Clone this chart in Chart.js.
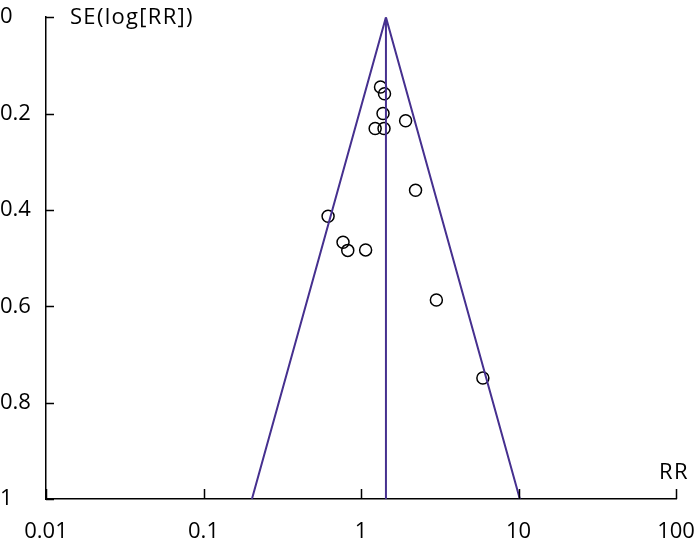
<!DOCTYPE html>
<html>
<head>
<meta charset="utf-8">
<script src="https://cdn.jsdelivr.net/npm/chart.js@4/dist/chart.umd.min.js"></script>
<style>
  html, body { margin: 0; padding: 0; background: #fff; }
  #wrap { width: 700px; height: 544px; }
</style>
</head>
<body>
<div id="wrap"><canvas id="funnel"></canvas></div>
<script>
// study estimates
const rrValues = [1.33, 1.41, 1.38, 1.92, 1.23, 1.40, 2.22, 0.618, 0.769, 0.824, 1.07, 3.01, 5.94];
const seValues = [0.145, 0.159, 0.200, 0.215, 0.231, 0.231, 0.359, 0.413, 0.467, 0.484, 0.483, 0.587, 0.749];

// pooled estimate and 95% limits at SE = 1
const pooledRR = 1.44;
const funnelX = [0.203, pooledRR, 10.2];
const funnelY = [1, 0, 1];

const xTicks = [0.01, 0.1, 1, 10, 100];
const yTicks = [0, 0.2, 0.4, 0.6, 0.8, 1];

const lineColor = "#46308f";
const font = { family: "'Open Sans', sans-serif", size: 22 };

// inward tick marks + axis captions
const extras = {
  id: "extras",
  afterDraw(chart) {
    const { ctx, chartArea: a, scales: { x, y } } = chart;
    ctx.save();
    ctx.strokeStyle = "#000";
    ctx.lineWidth = 1.5;
    ctx.beginPath();
    for (const v of yTicks) {
      const py = Math.round(y.getPixelForValue(v)) + 0.5;
      ctx.moveTo(a.left, py);
      ctx.lineTo(a.left + 8, py);
    }
    for (const v of xTicks) {
      const px = Math.round(x.getPixelForValue(v)) + 0.5;
      ctx.moveTo(px, a.bottom);
      ctx.lineTo(px, a.bottom - 10);
    }
    ctx.stroke();

    ctx.fillStyle = "#000";
    ctx.font = "22px 'Open Sans', sans-serif";
    ctx.textBaseline = "middle";
    ctx.textAlign = "left";
    ctx.letterSpacing = "1.3px";
    ctx.fillText("SE(log[RR])", a.left + 24, a.top + 1);
    ctx.letterSpacing = "1.5px";
    ctx.fillText("RR", a.right - 17, a.bottom - 26);
    ctx.restore();
  }
};

new Chart(document.getElementById("funnel"), {
  type: "scatter",
  data: {
    datasets: [
      {
        label: "funnel",
        data: funnelX.map((v, i) => ({ x: v, y: funnelY[i] })),
        showLine: true,
        borderColor: lineColor,
        borderWidth: 2,
        pointRadius: 0,
        fill: false
      },
      {
        label: "pooled",
        data: [{ x: pooledRR, y: 0 }, { x: pooledRR, y: 1 }],
        showLine: true,
        borderColor: lineColor,
        borderWidth: 2,
        pointRadius: 0
      },
      {
        label: "studies",
        data: rrValues.map((v, i) => ({ x: v, y: seValues[i] })),
        pointStyle: "circle",
        pointRadius: 6,
        pointBorderWidth: 1.5,
        borderColor: "#000",
        backgroundColor: "rgba(0,0,0,0)"
      }
    ]
  },
  options: {
    responsive: true,
    maintainAspectRatio: false,
    animation: false,
    layout: { padding: { top: 15, right: 24, left: 0, bottom: 0 } },
    plugins: { legend: { display: false }, tooltip: { enabled: false } },
    scales: {
      x: {
        type: "logarithmic",
        min: 0.01,
        max: 100,
        afterBuildTicks: (s) => { s.ticks = xTicks.map(v => ({ value: v })); },
        afterFit: (s) => { s.height = 45; s.paddingLeft = 0; s.paddingRight = 0; },
        grid: { display: false },
        border: { display: true, color: "#000", width: 1.5 },
        ticks: {
          color: "#000",
          font,
          padding: 12,
          maxRotation: 0,
          callback: (v) => String(v)
        }
      },
      y: {
        reverse: true,
        min: 0,
        max: 1,
        afterBuildTicks: (s) => { s.ticks = yTicks.map(v => ({ value: v })); },
        afterFit: (s) => { s.width = 46; },
        grid: { display: false },
        border: { display: true, color: "#000", width: 1.5 },
        ticks: {
          color: "#000",
          font,
          crossAlign: "far",
          padding: 4,
          callback: (v) => String(v)
        }
      }
    }
  },
  plugins: [extras]
});
</script>
</body>
</html>
